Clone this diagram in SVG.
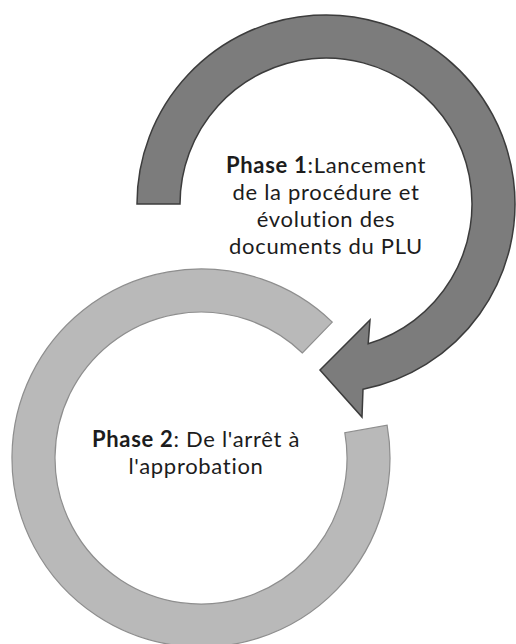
<svg xmlns="http://www.w3.org/2000/svg" width="516" height="644" viewBox="0 0 516 644">
<style>
.dark{fill:#7c7c7c;stroke:#3c3c3c;stroke-width:1.5;stroke-linejoin:miter}
.light{fill:#b9b9b9;stroke:#8e8e8e;stroke-width:1.2}
.t{font-family:Lato,"Open Sans","Liberation Sans",sans-serif;font-size:22px;letter-spacing:0.7px;fill:#1c1c1c;text-anchor:middle}
.b{font-weight:bold}
</style>
<rect width="516" height="644" fill="#ffffff"/>
<g id="phase2">
<path class="light" d="M332.3,322.1 A189,189 0 1 0 387.1,425.2 L344.8,432.7 A146,146 0 1 1 302.4,353 Z"/>
<text class="t" x="196" y="447"><tspan class="b">Phase 2</tspan>: De l'arrêt à</text>
<text class="t" x="196" y="474">l'approbation</text>
</g>
<g id="phase1">
<path class="dark" d="M137,204 A189,189 0 1 1 363,389.3 L362,417 L320,370 L370,320 L368.2,343.8 A146,146 0 1 0 180,204 Z"/>
<text class="t" x="326" y="173"><tspan class="b">Phase 1</tspan>:Lancement</text>
<text class="t" x="326" y="200">de la procédure et</text>
<text class="t" x="326" y="227">évolution des</text>
<text class="t" x="326" y="254">documents du PLU</text>
</g>
<g id="connectors"/>
</svg>
